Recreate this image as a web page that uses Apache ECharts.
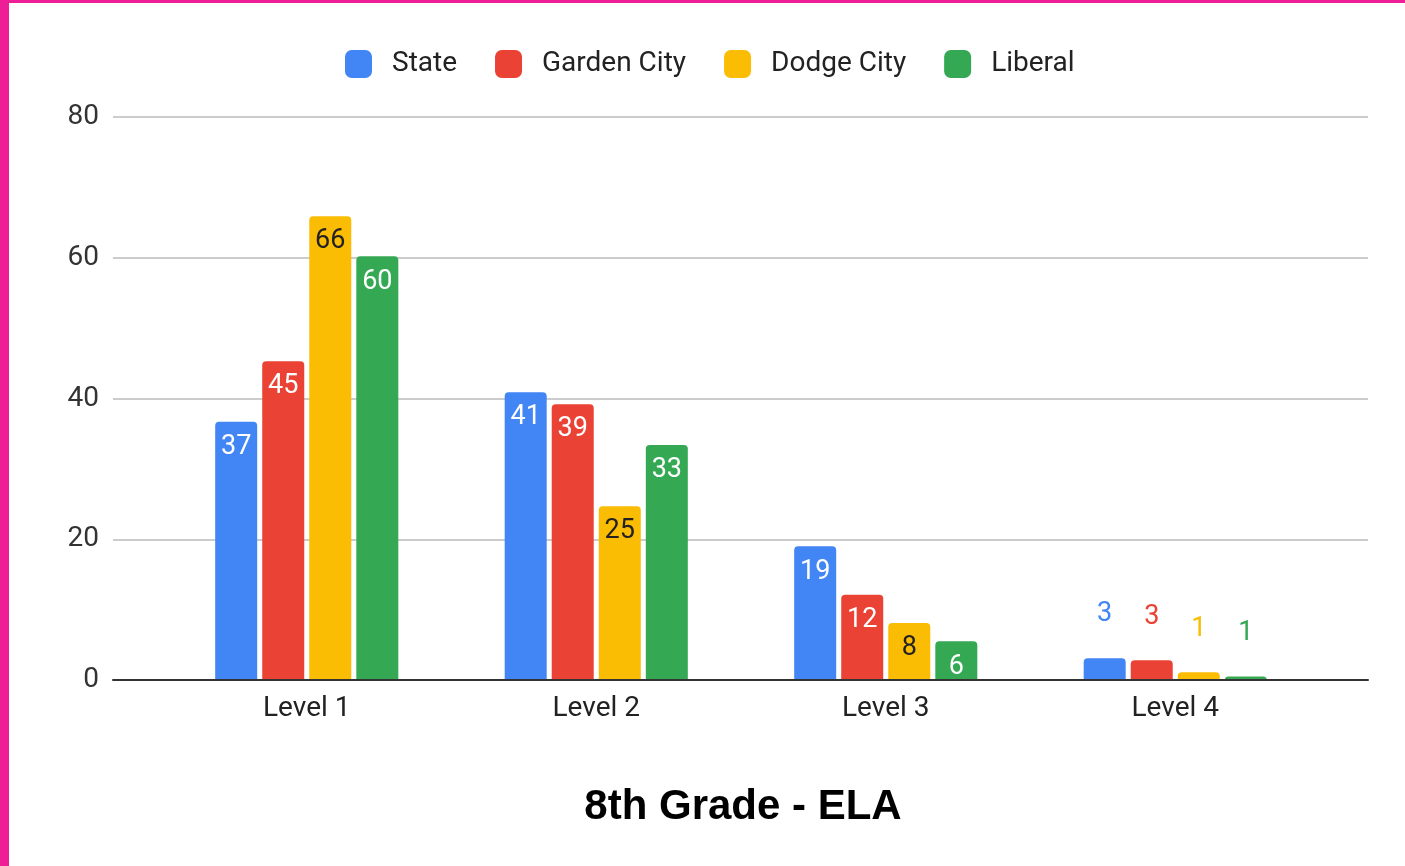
<!DOCTYPE html>
<html>
<head>
<meta charset="utf-8">
<script src="https://cdn.jsdelivr.net/npm/echarts@6/dist/echarts.min.js"></script>
<style>
html,body{margin:0;padding:0;background:#fff;}
#chart{width:1405px;height:866px;}
</style>
</head>
<body>
<div id="chart"></div>
<script>
const categories = ['Level 1', 'Level 2', 'Level 3', 'Level 4'];
const seriesNames = ['State', 'Garden City', 'Dodge City', 'Liberal'];
const state = [36.7, 40.9, 19.0, 3.1];
const gardenCity = [45.3, 39.2, 12.1, 2.8];
const dodgeCity = [65.9, 24.7, 8.1, 1.1];
const liberal = [60.2, 33.4, 5.5, 0.5];
const yTicks = [0, 20, 40, 60, 80];
const colors = ['#4285F4', '#EA4335', '#FBBC04', '#34A853'];
const insideLabelColors = ['#ffffff', '#ffffff', '#222222', '#ffffff'];

const chart = echarts.init(document.getElementById('chart'));
const FONT = 'Roboto';

function makeSeries(name, values, idx) {
  return {
    name: name,
    type: 'bar',
    xAxisIndex: 1,
    yAxisIndex: 1,
    barWidth: 42,
    barGap: '12%',
    z: 3,
    itemStyle: { color: colors[idx], borderRadius: [4, 4, 0, 0] },
    data: values.map(function (v) {
      const small = v < 4;
      return {
        value: v,
        label: small ? {
          show: true, position: 'top', distance: 30,
          color: colors[idx], fontSize: 27, fontFamily: FONT,
          formatter: function (p) { return Math.round(p.value); }
        } : {
          show: true, position: 'insideTop', distance: 12,
          color: insideLabelColors[idx], fontSize: 27, fontFamily: FONT,
          formatter: function (p) { return Math.round(p.value); }
        }
      };
    })
  };
}

const option = {
  backgroundColor: '#ffffff',
  animation: false,
  color: colors,
  title: {
    text: '8th Grade - ELA',
    left: 738,
    textAlign: 'center',
    top: 781,
    textStyle: { fontFamily: 'Liberation Sans', fontWeight: 'bold', fontSize: 42, color: '#000' }
  },
  legend: {
    data: seriesNames,
    left: 340,
    top: 45,
    icon: 'roundRect',
    itemWidth: 27,
    itemHeight: 28,
    itemGap: 38,
    textStyle: { fontFamily: FONT, fontSize: 28, color: '#222', padding: [0, 0, 0, 15] }
  },
  graphic: [
    { type: 'rect', left: 0, top: 0, shape: { width: 9, height: 866 }, style: { fill: '#EE1E96' }, z: 100 },
    { type: 'rect', left: 0, top: 0, shape: { width: 1405, height: 3 }, style: { fill: '#EE1E96' }, z: 100 }
  ],
  grid: [
    { left: 113, right: 37, top: 117, bottom: 186 },
    { left: 162, right: 85, top: 117, bottom: 186 }
  ],
  xAxis: [
    {
      gridIndex: 0, type: 'category', data: [''],
      axisLine: { show: true, lineStyle: { color: '#333', width: 2 } },
      axisTick: { show: false }, axisLabel: { show: false }, z: 4
    },
    {
      gridIndex: 1, type: 'category', data: categories,
      axisLine: { show: false }, axisTick: { show: false },
      axisLabel: { fontFamily: FONT, fontSize: 28, color: '#222', margin: 15 }
    }
  ],
  yAxis: [
    {
      gridIndex: 0, type: 'value', min: 0, max: 80, interval: 20,
      axisLine: { show: false }, axisTick: { show: false },
      axisLabel: {
        fontFamily: FONT, fontSize: 28, color: '#333', margin: 14, padding: [4, 0, 0, 0],
        formatter: function (v) { return yTicks.indexOf(v) >= 0 ? String(v) : ''; }
      },
      splitLine: { lineStyle: { color: '#cccccc', width: 2 } }
    },
    {
      gridIndex: 1, type: 'value', min: 0, max: 80, interval: 20, show: false,
      splitLine: { show: false }
    }
  ],
  series: [
    makeSeries(seriesNames[0], state, 0),
    makeSeries(seriesNames[1], gardenCity, 1),
    makeSeries(seriesNames[2], dodgeCity, 2),
    makeSeries(seriesNames[3], liberal, 3)
  ]
};
chart.setOption(option);
</script>
</body>
</html>
